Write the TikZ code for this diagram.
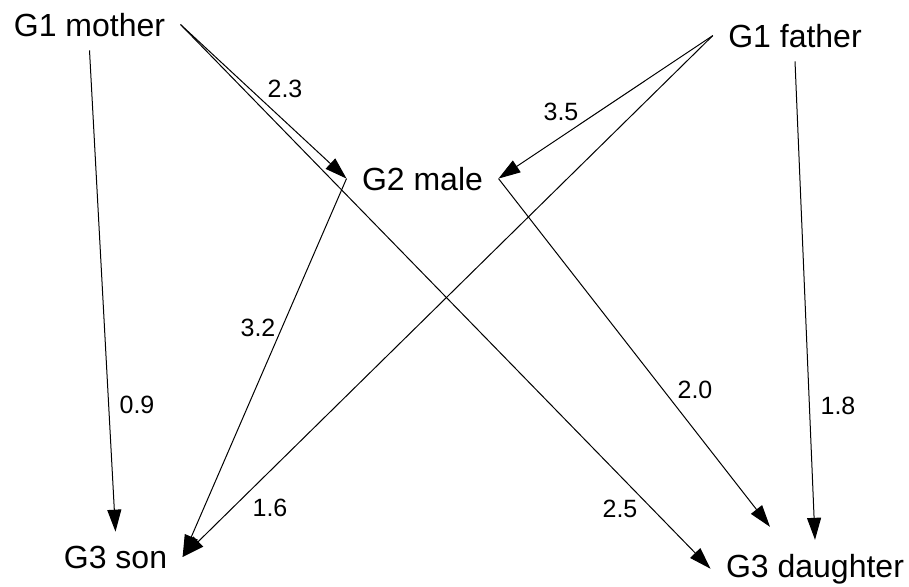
\documentclass[tikz,border=0pt]{standalone}
\usepackage{fontspec}
\setmainfont{Liberation Sans}
\usetikzlibrary{arrows.meta}

\begin{document}
\begin{tikzpicture}[x=0.5pt, y=-0.5pt, >={Triangle[length=11pt, width=7pt]}, line width=0.5pt,
  p/.style={anchor=base, font=\fontsize{16}{19}\selectfont, inner xsep=7.5pt, inner ysep=6.75pt},
  w/.style={font=\fontsize{12.5}{15}\selectfont, inner sep=0pt}]
\useasboundingbox (0,0) rectangle (909,586);
\node[p] (mom) at (89.5,36) {G1 mother};
\node[p] (dad) at (795,47) {G1 father};
\node[p] (male) at (422.5,190) {G2 male};
\node[p] (son) at (115.5,568) {G3 son};
\node[p] (dau) at (815,577) {G3 daughter};
\draw[->] (mom.south) -- (son.north);
\draw[->] (mom.east) -- (male.west);
\draw[->] (mom.east) -- (dau.west);
\draw[->] (dad.west) -- (male.east);
\draw[->] (dad.west) -- (son.east);
\draw[->] (dad.south) -- (dau.north);
\draw[->] (male.west) -- (son.east);
\draw[->] (male.east) -- ([xshift=-22.5pt, yshift=6.5pt]dau.north);
% weights
\node[w] (w1) at (285,89) {2.3};
\node[w] (w2) at (561,112) {3.5};
\node[w] (w3) at (258,328) {3.2};
\node[w] (w4) at (137,405) {0.9};
\node[w] (w5) at (838,406) {1.8};
\node[w] (w6) at (270,508) {1.6};
\node[w] (w7) at (620,509) {2.5};
\node[w] (w8) at (695,390) {2.0};
\end{tikzpicture}
\end{document}
